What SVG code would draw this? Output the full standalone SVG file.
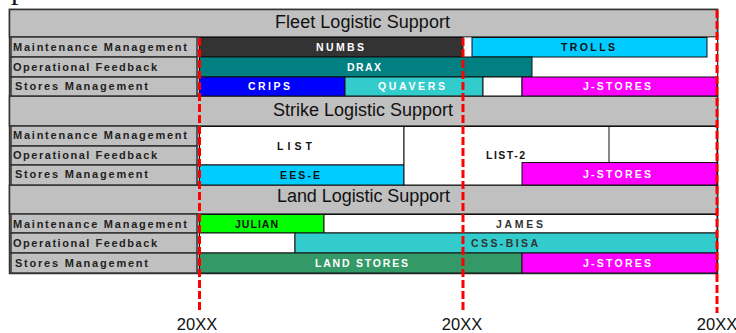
<svg xmlns="http://www.w3.org/2000/svg" width="736" height="333" viewBox="0 0 736 333">
<style>
.hdr{fill:#C0C0C0;stroke:#333;stroke-width:1.5}
.lbl{fill:#C0C0C0;stroke:#333;stroke-width:1.5}
.lt{font-family:"Liberation Sans",Arial,sans-serif;font-weight:bold;font-size:11px;fill:#222}
.ht{font-family:"Liberation Sans",Arial,sans-serif;font-size:18px;fill:#111}
.bar{stroke:#111;stroke-width:1}
.bt{font-family:"Liberation Sans",Arial,sans-serif;font-weight:bold;font-size:10.5px}
.w{fill:#fff}.k{fill:#111}
.yr{font-family:"Liberation Sans",Arial,sans-serif;font-size:16.5px;fill:#111}
.red{stroke:#FF0000;stroke-width:3;stroke-dasharray:8 3;fill:none}
</style>
<rect width="736" height="333" fill="#fff"/>
<text x="11" y="-1.5" font-family="Liberation Serif,serif" font-size="30" fill="#111">p</text>
<rect x="9.5" y="9.5" width="708" height="264" fill="#C0C0C0" stroke="#333" stroke-width="1.5"/>

<g id="fleet-header"><rect class="hdr" x="9.5" y="9.5" width="708" height="27.5"/><text class="ht" x="275" y="28" textLength="175" lengthAdjust="spacing">Fleet Logistic Support</text></g>
<g id="strike-header"><rect class="hdr" x="9.5" y="96" width="708" height="30"/><text class="ht" x="273" y="116" textLength="180" lengthAdjust="spacing">Strike Logistic Support</text></g>
<g id="land-header"><rect class="hdr" x="9.5" y="185" width="708" height="29"/><text class="ht" x="277" y="202" textLength="173" lengthAdjust="spacing">Land Logistic Support</text></g>

<g id="labels">
<g id="fleet-mm"><rect class="lbl" x="11" y="37" width="186" height="20"/><text class="lt" x="13" y="50.5" textLength="174" lengthAdjust="spacing">Maintenance Management</text></g>
<g id="fleet-of"><rect class="lbl" x="11" y="57" width="186" height="20"/><text class="lt" x="13" y="70.5" textLength="144" lengthAdjust="spacing">Operational Feedback</text></g>
<g id="fleet-sm"><rect class="lbl" x="11" y="77" width="186" height="19"/><text class="lt" x="15" y="89.5" textLength="133" lengthAdjust="spacing">Stores Management</text></g>
<g id="strike-mm"><rect class="lbl" x="11" y="126" width="186" height="20"/><text class="lt" x="13" y="139" textLength="174" lengthAdjust="spacing">Maintenance Management</text></g>
<g id="strike-of"><rect class="lbl" x="11" y="146" width="186" height="19"/><text class="lt" x="13" y="159" textLength="144" lengthAdjust="spacing">Operational Feedback</text></g>
<g id="strike-sm"><rect class="lbl" x="11" y="165" width="186" height="20"/><text class="lt" x="15" y="178" textLength="133" lengthAdjust="spacing">Stores Management</text></g>
<g id="land-mm"><rect class="lbl" x="11" y="214" width="186" height="19"/><text class="lt" x="13" y="227.5" textLength="174" lengthAdjust="spacing">Maintenance Management</text></g>
<g id="land-of"><rect class="lbl" x="11" y="233" width="186" height="20"/><text class="lt" x="13" y="246.5" textLength="144" lengthAdjust="spacing">Operational Feedback</text></g>
<g id="land-sm"><rect class="lbl" x="11" y="253" width="186" height="20"/><text class="lt" x="15" y="266.5" textLength="133" lengthAdjust="spacing">Stores Management</text></g>
</g>

<rect x="199" y="37.5" width="518" height="58" fill="#fff"/>
<rect x="199" y="214.5" width="518" height="58.5" fill="#fff"/>

<g id="numbs"><rect class="bar" x="199.5" y="37.5" width="263.5" height="19.5" fill="#333333"/><text class="bt w" x="316" y="51" textLength="48" lengthAdjust="spacing">NUMBS</text></g>
<g id="trolls"><rect class="bar" x="472" y="37.5" width="235" height="19.5" fill="#00CCFF"/><text class="bt k" x="561" y="51" textLength="54" lengthAdjust="spacing">TROLLS</text></g>
<g id="drax"><rect class="bar" x="199.5" y="57" width="332.5" height="20" fill="#008080"/><text class="bt w" x="347" y="70.5" textLength="34" lengthAdjust="spacing">DRAX</text></g>
<g id="crips"><rect class="bar" x="199.5" y="77" width="145.5" height="19" fill="#0000FF"/><text class="bt w" x="248" y="90" textLength="42" lengthAdjust="spacing">CRIPS</text></g>
<g id="quavers"><rect class="bar" x="345" y="77" width="138" height="19" fill="#33CCCC"/><text class="bt w" x="378" y="90" textLength="67" lengthAdjust="spacing">QUAVERS</text></g>
<g id="fleet-gap"><rect class="bar" x="483" y="77" width="39" height="19" fill="#fff"/></g>
<g id="fleet-jstores"><rect class="bar" x="522" y="77" width="195" height="19" fill="#FF00FF"/><text class="bt w" x="583" y="90" textLength="68" lengthAdjust="spacing">J-STORES</text></g>

<g id="list"><rect class="bar" x="199.5" y="126.5" width="204.5" height="38.5" fill="#fff"/><text class="bt k" x="277" y="150" textLength="35" lengthAdjust="spacing">LIST</text></g>
<g id="ees-e"><rect class="bar" x="199.5" y="165" width="204.5" height="20" fill="#00CCFF"/><text class="bt k" x="280" y="179" textLength="40" lengthAdjust="spacing">EES-E</text></g>
<g id="list-2"><rect class="bar" x="404" y="126.5" width="313" height="58.5" fill="#fff"/><text class="bt k" x="486" y="159" textLength="39" lengthAdjust="spacing">LIST-2</text></g>
<g id="strike-blank"><rect class="bar" x="609" y="126.5" width="108" height="36" fill="#fff"/></g>
<g id="strike-jstores"><rect class="bar" x="522" y="162.5" width="195" height="22.5" fill="#FF00FF"/><text class="bt w" x="583" y="177.5" textLength="68" lengthAdjust="spacing">J-STORES</text></g>

<g id="julian"><rect class="bar" x="199.5" y="214.5" width="124.5" height="18.5" fill="#00FF00"/><text class="bt k" x="235" y="228" textLength="43" lengthAdjust="spacing">JULIAN</text></g>
<g id="james"><rect class="bar" x="324" y="214.5" width="393" height="18.5" fill="#fff"/><text class="bt" fill="#333" x="496" y="228" textLength="47" lengthAdjust="spacing">JAMES</text></g>
<g id="land-blank"><rect class="bar" x="199.5" y="233" width="95.5" height="20" fill="#fff"/></g>
<g id="css-bisa"><rect class="bar" x="295" y="233" width="422" height="20" fill="#33CCCC"/><text class="bt" fill="#333" x="471" y="247" textLength="67" lengthAdjust="spacing">CSS-BISA</text></g>
<g id="land-stores"><rect class="bar" x="199.5" y="253" width="322.5" height="20" fill="#339966"/><text class="bt w" x="315" y="267" textLength="93" lengthAdjust="spacing">LAND STORES</text></g>
<g id="land-jstores"><rect class="bar" x="522" y="253" width="195" height="20" fill="#FF00FF"/><text class="bt w" x="583" y="267" textLength="68" lengthAdjust="spacing">J-STORES</text></g>

<g id="connectors">
<line class="red" x1="199.5" y1="38" x2="199.5" y2="313"/>
<line class="red" x1="463" y1="38" x2="463" y2="313"/>
<line class="red" x1="717" y1="10" x2="717" y2="313"/>
</g>
<g id="years">
<text class="yr" x="197" y="329.5" text-anchor="middle">20XX</text>
<text class="yr" x="462" y="329.5" text-anchor="middle">20XX</text>
<text class="yr" x="717" y="329.5" text-anchor="middle">20XX</text>
</g>
</svg>
